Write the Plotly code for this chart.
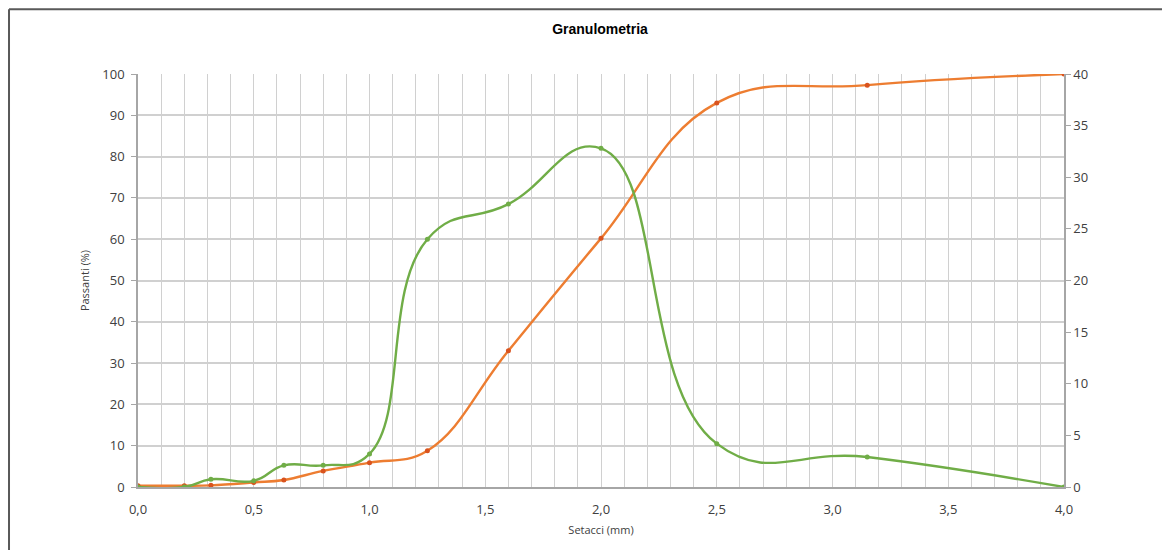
import plotly.graph_objects as go

sieves = [0.0, 0.2, 0.315, 0.5, 0.63, 0.8, 1.0, 1.25, 1.6, 2.0, 2.5, 3.15, 4.0]
passing = [0.3, 0.3, 0.4, 1.1, 1.7, 3.9, 5.9, 8.8, 33.0, 60.2, 93.0, 97.3, 100.0]
retained = [0.0, 0.0, 0.75, 0.6, 2.1, 2.1, 3.2, 24.0, 27.4, 32.8, 4.2, 2.9, 0.0]

title_text = "Granulometria"
x_title = "Setacci (mm)"
y_title = "Passanti (%)"

FONT = "Open Sans, DejaVu Sans, sans-serif"
GRID = "#D0D0D0"
AXIS = "#A6A6A6"

fig = go.Figure()
fig.add_trace(go.Scatter(
    x=sieves, y=passing, mode="lines+markers",
    line=dict(color="#ED7D31", width=2.4, shape="spline", smoothing=1.2),
    marker=dict(color="#D9531E", size=5),
    yaxis="y", showlegend=False, hoverinfo="x+y"))
fig.add_trace(go.Scatter(
    x=sieves, y=retained, mode="lines+markers",
    line=dict(color="#70AD47", width=2.4, shape="spline", smoothing=1.3),
    marker=dict(color="#70AD47", size=5),
    yaxis="y2", showlegend=False, hoverinfo="x+y"))

fig.update_layout(
    width=1170, height=550,
    margin=dict(l=130, r=114, t=66, b=71),
    paper_bgcolor="white", plot_bgcolor="white",
    separators=",.",
    font=dict(family=FONT, size=12, color="#404040"),
    title=dict(text="<b>" + title_text + "</b>", x=0.506, xanchor="center",
               y=0.961, yanchor="middle",
               font=dict(family="Liberation Sans, Arial, sans-serif", size=14, color="#000000")),
    xaxis=dict(range=[0, 4], dtick=0.5, tick0=0, tickformat=".1f",
               showgrid=True, gridcolor=GRID, gridwidth=1,
               minor=dict(dtick=0.1, showgrid=True, gridcolor=GRID, gridwidth=1),
               showline=True, linecolor=AXIS, linewidth=1.5,
               ticks="", zeroline=False, ticklabelstandoff=10,
               tickfont=dict(size=13, color="#404040"),
               title=dict(text=x_title, font=dict(size=11, color="#404040"), standoff=9)),
    yaxis=dict(range=[0, 100], dtick=10, showgrid=True, gridcolor=GRID, gridwidth=1.5,
               showline=True, linecolor=AXIS, linewidth=1.5,
               ticks="outside", ticklen=5, tickcolor=AXIS, zeroline=False,
               ticklabelstandoff=4,
               tickfont=dict(size=13, color="#404040"),
               title=dict(text=y_title, font=dict(size=11, color="#404040"), standoff=10)),
    yaxis2=dict(range=[0, 40], dtick=5, overlaying="y", side="right",
                showgrid=False, showline=True, linecolor=AXIS, linewidth=1.5,
                ticks="outside", ticklen=5, tickcolor=AXIS, zeroline=False,
                tickfont=dict(size=13, color="#404040")),
    shapes=[
        dict(type="line", xref="paper", yref="paper", x0=-0.1393, x1=-0.1393,
             y0=1.157, y1=-0.3, line=dict(color="#595959", width=2)),
        dict(type="line", xref="paper", yref="paper", x0=-0.1393, x1=1.2,
             y0=1.157, y1=1.157, line=dict(color="#595959", width=2)),
    ],
)

fig.write_html("out.html")
